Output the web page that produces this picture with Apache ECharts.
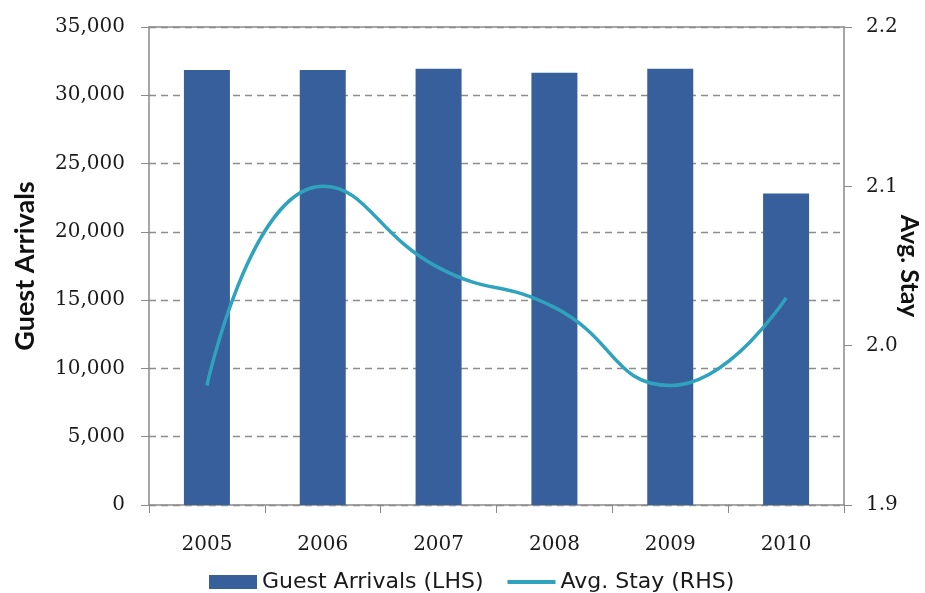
<!DOCTYPE html>
<html>
<head>
<meta charset="utf-8">
<script src="https://cdn.jsdelivr.net/npm/echarts@6/dist/echarts.min.js"></script>
<style>
  html, body { margin: 0; padding: 0; background: #fff; }
  #chart { width: 925px; height: 593px; }
</style>
</head>
<body>
<div id="chart"></div>
<script>
var years = ['2005', '2006', '2007', '2008', '2009', '2010'];
var guestArrivals = [31850, 31850, 31950, 31650, 31950, 22800];
var avgStay = [1.975, 2.100, 2.049, 2.024, 1.975, 2.030];

var chart = echarts.init(document.getElementById('chart'));

var axisGray = '#8a8a8a';
var labelFont = {
  fontFamily: 'DejaVu Serif',
  fontSize: 20,
  color: '#1a1a1a'
};

var option = {
  animation: false,
  backgroundColor: '#fff',
  grid: {
    left: 149,
    right: 81,
    top: 27,
    bottom: 88,
    outerBoundsMode: 'none'
  },
  legend: {
    left: 204,
    top: 566,
    itemWidth: 48,
    itemHeight: 14,
    itemGap: 22,
    textStyle: {
      fontFamily: 'DejaVu Sans',
      fontSize: 22,
      color: '#1a1a1a'
    },
    data: [
      { name: 'Guest Arrivals (LHS)', icon: 'rect' },
      {
        name: 'Avg. Stay (RHS)',
        itemStyle: { color: 'rgba(0,0,0,0)', borderWidth: 0 },
        lineStyle: { width: 4 }
      }
    ]
  },
  xAxis: [
    {
      type: 'category',
      data: years,
      axisLine: { lineStyle: { color: axisGray, width: 1.5 } },
      axisTick: { show: true, length: 8, lineStyle: { color: axisGray } },
      axisLabel: Object.assign({ margin: 30 }, labelFont)
    },
    {
      // top border of the plot
      type: 'category',
      data: years,
      position: 'top',
      axisLine: { lineStyle: { color: axisGray, width: 1.5 } },
      axisTick: { show: false },
      axisLabel: { show: false }
    }
  ],
  yAxis: [
    {
      type: 'value',
      min: 0,
      max: 35000,
      interval: 5000,
      name: 'Guest Arrivals',
      nameLocation: 'middle',
      nameGap: 110,
      nameMoveOverlap: false,
      nameTextStyle: {
        fontFamily: 'Lato',
        fontWeight: 'bold',
        fontSize: 27,
        color: '#111'
      },
      axisLine: { show: true, lineStyle: { color: axisGray, width: 1.5 } },
      axisTick: { show: true, length: 8, lineStyle: { color: axisGray } },
      axisLabel: Object.assign({
        margin: 24,
        formatter: function (v) {
          return v.toLocaleString('en-US');
        }
      }, labelFont),
      splitLine: {
        show: true,
        lineStyle: { color: '#8c8c8c', type: [7, 5], width: 1.3 }
      }
    },
    {
      type: 'value',
      min: 1.9,
      max: 2.2,
      interval: 0.1,
      name: 'Avg. Stay',
      nameLocation: 'middle',
      nameRotate: -90,
      nameGap: 53,
      nameMoveOverlap: false,
      nameTextStyle: {
        fontFamily: 'Lato',
        fontWeight: 'bold',
        fontSize: 25,
        color: '#111'
      },
      axisLine: { show: true, lineStyle: { color: axisGray, width: 1.5 } },
      axisTick: { show: true, length: 8, lineStyle: { color: axisGray } },
      axisLabel: Object.assign({
        margin: 22,
        formatter: function (v) {
          return v.toFixed(1);
        }
      }, labelFont),
      splitLine: { show: false }
    }
  ],
  series: [
    {
      name: 'Guest Arrivals (LHS)',
      type: 'bar',
      yAxisIndex: 0,
      barWidth: 46,
      itemStyle: { color: '#365f9b' },
      data: guestArrivals
    },
    {
      name: 'Avg. Stay (RHS)',
      type: 'line',
      yAxisIndex: 1,
      smooth: 0.5,
      symbol: 'none',
      lineStyle: { color: '#2fa3be', width: 3.5 },
      itemStyle: { color: '#2fa3be' },
      data: avgStay
    }
  ]
};

chart.setOption(option);
</script>
</body>
</html>
